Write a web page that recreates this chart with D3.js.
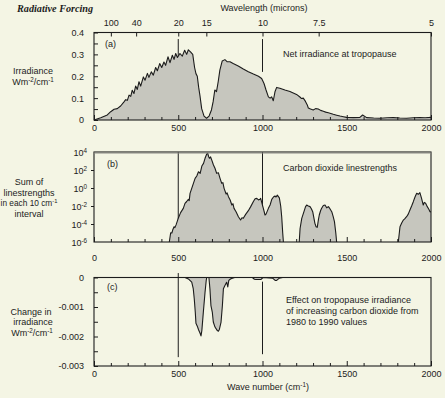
<!DOCTYPE html>
<html><head><meta charset="utf-8">
<script src="https://cdn.jsdelivr.net/npm/d3@7"></script>
<style>
html,body{margin:0;padding:0;background:#f4f5e4;}
svg{display:block;font-family:"Liberation Sans",Arial,sans-serif;}
</style></head><body>
<svg id="c" width="445" height="398"></svg>
<script>
// ---------- data ----------
const waveNumberTicks = [0, 500, 1000, 1500, 2000];
const wavelengthTicks = [100, 40, 20, 15, 10, 7.5, 5];
const irradianceTicks = [0, 0.1, 0.2, 0.3, 0.4];
const linestrengthExponentTicks = [-6, -4, -2, 0, 2, 4];
const changeTicks = [0, -0.001, -0.002, -0.003];
const markerWaveNumbers = [500, 1000];

// (a) net irradiance at tropopause  [wave number, W m-2 / cm-1]
const netIrradiance = [
 [0,0],[40,0.010],[79,0.023],[99,0.038],[119,0.049],[138,0.052],[158,0.064],[178,0.083],[188,0.093],[198,0.090],
 [208,0.114],[218,0.108],[227,0.136],[237,0.121],[247,0.155],[257,0.140],[267,0.175],[277,0.155],[293,0.197],[303,0.182],
 [317,0.213],[326,0.195],[340,0.220],[352,0.205],[366,0.240],[376,0.225],[390,0.258],[402,0.240],[415,0.265],[425,0.250],
 [439,0.289],[451,0.262],[465,0.296],[475,0.277],[485,0.304],[495,0.286],[510,0.304],[524,0.292],[538,0.319],[550,0.300],
 [560,0.321],[574,0.310],[586,0.300],[597,0.240],[605,0.212],[613,0.200],[621,0.150],[629,0.110],[639,0.052],[653,0.018],
 [668,0.008],[683,0.018],[697,0.046],[707,0.084],[717,0.137],[727,0.130],[737,0.175],[747,0.228],[761,0.270],[777,0.276],
 [791,0.266],[807,0.266],[826,0.258],[856,0.247],[886,0.233],[916,0.221],[946,0.210],[976,0.200],[995,0.190],[1009,0.167],
 [1021,0.137],[1035,0.106],[1045,0.100],[1054,0.106],[1064,0.088],[1074,0.129],[1084,0.149],[1103,0.145],[1133,0.137],
 [1163,0.130],[1202,0.117],[1222,0.105],[1232,0.098],[1242,0.100],[1255,0.085],[1265,0.070],[1272,0.055],[1285,0.050],
 [1301,0.046],[1315,0.052],[1331,0.050],[1345,0.044],[1361,0.040],[1375,0.036],[1391,0.033],[1405,0.030],[1420,0.026],
 [1440,0.022],[1460,0.018],[1480,0.015],[1499,0.012],[1539,0.011],[1578,0.012],[1594,0.023],[1618,0.011],[1660,0.009],
 [1697,0.008],[1740,0.010],[1776,0.011],[1815,0.009],[1855,0.008],[1895,0.010],[1934,0.011],[1965,0.010],[2000,0.012]
];

// (b) CO2 linestrength sums, log10 values  [wave number, log10 sum]
const co2Band1 = [
 [447,-6],[455,-4.97],[462,-5.0],[467,-4.67],[475,-4.3],[480,-4.4],[487,-4.1],[500,-3.37],[514,-2.74],[530,-2.26],
 [540,-1.7],[550,-1.5],[560,-1.26],[565,-1.4],[570,-0.6],[580,-0.04],[590,0.52],[600,1.07],[610,1.33],[620,1.81],
 [630,1.63],[640,2.44],[650,2.74],[659,3.3],[669,3.78],[675,3.85],[680,3.5],[685,3.3],[692,3.45],[699,3.1],
 [709,2.56],[718,2.19],[728,1.63],[738,1.7],[748,1.07],[758,0.52],[765,0.6],[772,-0.04],[784,-0.67],[790,-0.55],
 [798,-0.96],[808,-1.33],[818,-1.89],[825,-1.75],[831,-2.26],[843,-2.63],[857,-3.19],[870,-3.56],[878,-3.3],[886,-3.37],
 [900,-2.93],[916,-2.52],[930,-2.07],[946,-1.5],[956,-1.2],[966,-1.15],[976,-1.33],[985,-1.26],[989,-1.15],[1005,-2.26],
 [1015,-3.0],[1021,-2.9],[1035,-2.26],[1045,-1.89],[1055,-1.26],[1065,-1.0],[1074,-0.89],[1080,-1.0],[1088,-0.8],
 [1100,-1.1],[1108,-2.0],[1114,-3.19],[1120,-5.0],[1124,-6]
];
const co2Band2 = [
 [1218,-6],[1223,-4.5],[1233,-3.37],[1246,-2.63],[1255,-2.1],[1262,-1.89],[1272,-2.0],[1282,-2.07],[1290,-2.3],[1298,-2.63],
 [1311,-3.93],[1318,-4.3],[1325,-4.37],[1332,-3.5],[1337,-3.0],[1345,-2.5],[1351,-2.26],[1361,-1.95],[1371,-1.89],
 [1381,-2.2],[1391,-2.07],[1400,-2.3],[1411,-2.63],[1420,-3.2],[1427,-3.74],[1435,-5.0],[1440,-6]
];
const co2Band3 = [
 [1806,-6],[1816,-4.3],[1826,-3.9],[1836,-3.56],[1845,-3.4],[1855,-3.19],[1865,-2.9],[1875,-2.44],[1885,-2.0],[1895,-1.52],
 [1905,-1.0],[1915,-0.59],[1925,-0.7],[1934,-0.52],[1944,-1.15],[1954,-1.89],[1960,-1.6],[1968,-1.7],[1978,-2.07],
 [1988,-2.4],[1994,-2.63],[2000,-2.65]
];

// (c) change in tropopause irradiance 1980 -> 1990  [wave number, W m-2 / cm-1]
const irradianceChange = [
 [0,0],[520,0],[540,0],[560,-0.00005],[580,-0.00016],[589,-0.00038],[595,-0.00072],[601,-0.00117],[605,-0.00155],
 [613,-0.00165],[621,-0.00178],[629,-0.00188],[635,-0.00198],[640,-0.00180],[649,-0.00117],[659,-0.00050],[666,-0.00010],
 [669,0],[682,0],[688,-0.00038],[694,-0.00095],[702,-0.00117],[708,-0.00151],[718,-0.00168],[732,-0.00180],[738,-0.00182],
 [744,-0.00176],[754,-0.00151],[762,-0.00095],[768,-0.00038],[777,-0.00027],[787,-0.00016],[794,-0.00032],[800,-0.00010],
 [810,-0.00005],[817,-0.00003],[835,0],[940,0],[952,-0.00006],[961,-0.00007],[990,-0.00007],[1003,0],[1060,-0.00002],
 [1075,-0.00010],[1084,-0.00010],[1100,-0.00002],[1120,0],[2000,0]
];

// ---------- drawing ----------
const BG = "#f4f5e4", FILL = "#c6c6be", INK = "#1c1c1c";
const svg = d3.select("#c");
svg.append("rect").attr("width", 445).attr("height", 398).attr("fill", BG);

const x = d3.scaleLinear().domain([0, 2000]).range([94, 431]);
const yA = d3.scaleLinear().domain([0, 0.4]).range([120, 32.5]);
const yB = d3.scaleLog().domain([1e-6, 1e4]).range([242, 152]);
const yC = d3.scaleLinear().domain([-0.003, 0]).range([366, 277.5]);

function txt(g, x0, y0, parts, anchor, size, extra) {
  const t = g.append("text").attr("x", x0).attr("y", y0).attr("text-anchor", anchor || "start")
    .attr("font-size", size || 9).attr("fill", INK);
  if (extra) extra(t);
  if (typeof parts === "string") { t.text(parts); return t; }
  parts.forEach(p => {
    const s = t.append("tspan").text(p.t);
    if (p.sup) s.attr("dy", -3).attr("font-size", (size || 9) * 0.7);
    if (p.after) s.attr("dy", 3);
  });
  return t;
}
function styleAxis(g) {
  g.select(".domain").remove();
  g.selectAll("line").attr("stroke", INK).attr("stroke-width", 1);
  g.selectAll("text").attr("font-size", 9).attr("fill", INK).attr("font-family", "Liberation Sans, Arial, sans-serif");
}
function bottomAxis(y0, labelOffset) {
  const g = svg.append("g").attr("transform", `translate(0,${y0})`)
    .call(d3.axisBottom(x).tickValues(d3.range(0, 2001, 100)).tickSizeInner(-3).tickSizeOuter(0)
      .tickPadding(labelOffset - 6.4).tickFormat(d => waveNumberTicks.includes(d) ? d : ""));
  styleAxis(g);
  g.selectAll(".tick line").attr("y2", d => d % 500 === 0 ? -5 : -3);
  return g;
}
function box(yTop, yBot) {
  svg.append("rect").attr("x", x(0)).attr("y", yTop).attr("width", x(2000) - x(0)).attr("height", yBot - yTop)
    .attr("fill", "none").attr("stroke", INK).attr("stroke-width", 1.1);
}

// ===== Panel (a) =====
svg.append("line").attr("x1", x(500)).attr("x2", x(500)).attr("y1", yA(0.37)).attr("y2", yA(0))
  .attr("stroke", INK).attr("stroke-width", 1);
svg.append("line").attr("x1", x(1000)).attr("x2", x(1000)).attr("y1", yA(0.37)).attr("y2", yA(0.22))
  .attr("stroke", INK).attr("stroke-width", 1);
svg.append("path").datum(netIrradiance).attr("fill", FILL)
  .attr("d", d3.area().x(d => x(d[0])).y0(yA(0)).y1(d => yA(d[1])));
svg.append("path").datum(netIrradiance).attr("fill", "none").attr("stroke", INK).attr("stroke-width", 1.1)
  .attr("stroke-linejoin", "round").attr("d", d3.line().x(d => x(d[0])).y(d => yA(d[1])));
box(yA(0.4), yA(0));
bottomAxis(yA(0), 11.5);
{
  const g = svg.append("g").attr("transform", `translate(${x(0)},0)`)
    .call(d3.axisLeft(yA).tickValues(d3.range(0, 0.401, 0.05)).tickSizeInner(-4).tickSizeOuter(0)
      .tickPadding(10).tickFormat(d => irradianceTicks.some(v => Math.abs(v - d) < 1e-9) ? d3.format("")(+d.toFixed(1)) : ""));
  styleAxis(g);
}
{
  const g = svg.append("g").attr("transform", `translate(0,${yA(0.4)})`)
    .call(d3.axisTop(x).tickValues(wavelengthTicks.map(l => 10000 / l)).tickSizeInner(-4).tickSizeOuter(0)
      .tickPadding(10).tickFormat((d, i) => wavelengthTicks[i]));
  styleAxis(g);
  g.selectAll("text").attr("y", -6.5).attr("dy", 0);
}
txt(svg, 264, 11, "Wavelength (microns)", "middle", 9);
txt(svg, 17, 12, "Radiative Forcing", "start", 10.2, t => t.attr("font-family", "Liberation Serif, Times New Roman, serif")
  .attr("font-style", "italic").attr("font-weight", "bold"));
txt(svg, 105, 47, "(a)", "start", 9);
txt(svg, 283, 57, "Net irradiance at tropopause", "start", 9);
txt(svg, 33, 73.5, "Irradiance", "middle", 9);
txt(svg, 33, 84.5, [{t:"Wm"},{t:"-2",sup:true},{t:"/cm",after:true},{t:"-1",sup:true}], "middle", 9);

// ===== Panel (b) =====
markerWaveNumbers.forEach(w => svg.append("line").attr("x1", x(w)).attr("x2", x(w)).attr("y1", yB(1e4)).attr("y2", yB(1e-6))
  .attr("stroke", INK).attr("stroke-width", 1));
const areaB = d3.area().x(d => x(d[0])).y0(yB(1e-6)).y1(d => yB(Math.pow(10, d[1])));
const lineB = d3.line().x(d => x(d[0])).y(d => yB(Math.pow(10, d[1])));
[co2Band1, co2Band2, co2Band3].forEach(band => {
  svg.append("path").datum(band).attr("fill", FILL).attr("d", areaB);
  svg.append("path").datum(band).attr("fill", "none").attr("stroke", INK).attr("stroke-width", 1.1)
    .attr("stroke-linejoin", "round").attr("d", lineB);
});
box(yB(1e4), yB(1e-6));
svg.append("line").attr("x1", x(0)).attr("x2", x(2000)).attr("y1", yB(1e4) + 1).attr("y2", yB(1e4) + 1)
  .attr("stroke", "#8a8a84").attr("stroke-width", 1);
bottomAxis(yB(1e-6), 19);
{
  const g = svg.append("g").attr("transform", `translate(${x(0)},0)`)
    .call(d3.axisLeft(yB).tickValues(linestrengthExponentTicks.map(e => Math.pow(10, e))).tickSizeInner(3).tickSizeOuter(0)
      .tickFormat(""));
  styleAxis(g);
  g.selectAll(".tick line").attr("x2", d => (d === 1e-6 || d === 1e4) ? 0 : -3);
  linestrengthExponentTicks.forEach(e => {
    txt(svg, 87, yB(Math.pow(10, e)) + 3.5, [{t:"10"},{t:String(e),sup:true}], "end", 9);
  });
}
txt(svg, 107, 167, "(b)", "start", 9);
txt(svg, 283, 171, "Carbon dioxide linestrengths", "start", 9);
txt(svg, 29, 185, "Sum of", "middle", 9);
txt(svg, 29, 195.5, "linestrengths", "middle", 9);
txt(svg, 29, 206, [{t:"in each 10 cm"},{t:"-1",sup:true}], "middle", 8.3);
txt(svg, 29, 216.5, "interval", "middle", 9);

// ===== Panel (c) =====
svg.append("line").attr("x1", x(500)).attr("x2", x(500)).attr("y1", yC(0.00015)).attr("y2", yC(-0.0027))
  .attr("stroke", INK).attr("stroke-width", 1);
svg.append("line").attr("x1", x(1000)).attr("x2", x(1000)).attr("y1", yC(-0.00014)).attr("y2", yC(-0.0026))
  .attr("stroke", INK).attr("stroke-width", 1);
svg.append("path").datum(irradianceChange).attr("fill", FILL)
  .attr("d", d3.area().x(d => x(d[0])).y0(yC(0)).y1(d => yC(d[1])));
svg.append("path").datum(irradianceChange).attr("fill", "none").attr("stroke", INK).attr("stroke-width", 1.1)
  .attr("stroke-linejoin", "round").attr("d", d3.line().x(d => x(d[0])).y(d => yC(d[1])));
box(yC(0), yC(-0.003));
bottomAxis(yC(-0.003), 11);
{
  const g = svg.append("g").attr("transform", `translate(${x(0)},0)`)
    .call(d3.axisLeft(yC).tickValues(d3.range(0, 7).map(i => -0.0005 * i)).tickSizeInner(-4).tickSizeOuter(0)
      .tickPadding(10).tickFormat(d => {
        const m = changeTicks.find(v => Math.abs(v - d) < 1e-9);
        return m === undefined ? "" : (m === 0 ? "0" : m.toFixed(3));
      }));
  styleAxis(g);
}
txt(svg, 107, 290, "(c)", "start", 9);
txt(svg, 286, 303, "Effect on tropopause irradiance", "start", 9);
txt(svg, 286, 313.5, "of increasing carbon dioxide from", "start", 9);
txt(svg, 286, 324.5, "1980 to 1990 values", "start", 9);
txt(svg, 31, 314.5, "Change in", "middle", 9);
txt(svg, 33, 324.5, "irradiance", "middle", 9);
txt(svg, 32, 335.5, [{t:"Wm"},{t:"-2",sup:true},{t:"/cm",after:true},{t:"-1",sup:true}], "middle", 9);
txt(svg, 268, 390, [{t:"Wave number (cm"},{t:"-1",sup:true},{t:")",after:true}], "middle", 9);
</script>
</body></html>
